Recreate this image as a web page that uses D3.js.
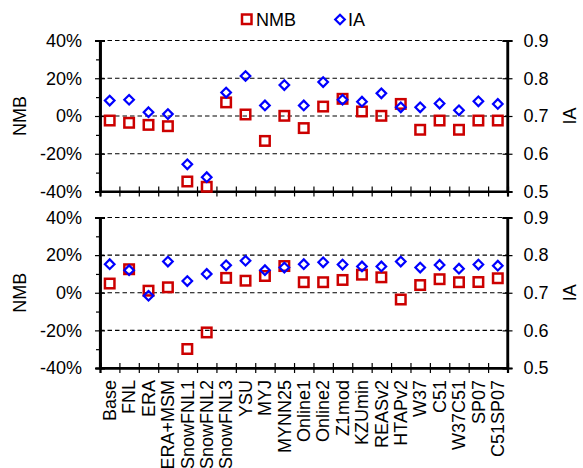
<!DOCTYPE html>
<html>
<head>
<meta charset="utf-8">
<script src="https://cdn.jsdelivr.net/npm/d3@7"></script>
<style>
  html, body { margin: 0; padding: 0; background: #fff; }
  svg { display: block; }
  text { font-family: Arial, "Liberation Sans", sans-serif; fill: #000; }
</style>
</head>
<body>
<svg id="chart" width="583" height="468"></svg>
<script>
// Model runs along the x axis
const runs = ["Base", "FNL", "ERA", "ERA+MSM", "SnowFNL1", "SnowFNL2", "SnowFNL3",
  "YSU", "MYJ", "MYNN25", "Online1", "Online2", "Z1mod", "KZUmin", "REASv2",
  "HTAPv2", "W37", "C51", "W37C51", "SP07", "C51SP07"];

// Upper panel: normalized mean bias (%) and index of agreement
const nmbTop = [-2.4, -3.6, -4.7, -5.4, -34.7, -37.5, 7.2, 0.8, -13.2, 0.1, -6.4, 5.0,
  9.1, 2.4, 0.1, 6.4, -7.3, -2.4, -7.3, -2.4, -2.4];
const iaTop = [0.741, 0.743, 0.710, 0.705, 0.572, 0.538, 0.762, 0.806, 0.728, 0.782, 0.728, 0.790,
  0.743, 0.738, 0.760, 0.723, 0.723, 0.733, 0.715, 0.739, 0.732];

// Lower panel
const nmbBottom = [4.9, 12.5, 1.1, 2.9, -29.9, -21.1, 7.9, 6.4, 8.9, 14.2, 5.6, 5.6,
  6.8, 9.6, 8.2, -3.6, 4.1, 7.2, 5.6, 5.7, 7.7];
const iaBottom = [0.776, 0.760, 0.692, 0.783, 0.731, 0.750, 0.773, 0.785, 0.760, 0.767, 0.776, 0.781,
  0.775, 0.770, 0.770, 0.783, 0.767, 0.774, 0.764, 0.775, 0.772];

// Axis ticks
const nmbTicks = [-40, -20, 0, 20, 40];
const nmbMinorTicks = [-30, -10, 10, 30];
const iaTicks = [0.5, 0.6, 0.7, 0.8, 0.9];
const gridTicks = [-20, 0, 20, 40];

const svg = d3.select("#chart");
const left = 100, right = 507.5;
const red = "#cc0000", blue = "#0000ff";

const x = d3.scaleBand().domain(runs).range([left, right]).padding(0);
const xEdge = d3.scaleLinear().domain([0, runs.length]).range([left, right]);

function panel(top, bottom, nmb, ia, showLabels) {
  const y = d3.scaleLinear().domain([-40, 40]).range([bottom, top]);
  const yIA = d3.scaleLinear().domain([0.5, 0.9]).range([bottom, top]);
  const g = svg.append("g");

  // dashed gridlines
  g.append("g").selectAll("line").data(gridTicks).join("line")
    .attr("x1", left).attr("x2", right)
    .attr("y1", d => y(d)).attr("y2", d => y(d))
    .attr("stroke", "#000").attr("stroke-width", 1.2)
    .attr("stroke-dasharray", "4.5,3");

  // left axis: labels + outer ticks, then inner half of major ticks, then minor ticks
  const la = g.append("g").attr("transform", `translate(${left},0)`)
    .call(d3.axisLeft(y).tickValues(nmbTicks).tickFormat(d => d + "%").tickSize(5).tickPadding(13));
  g.append("g").attr("transform", `translate(${left},0)`)
    .call(d3.axisLeft(y).tickValues(nmbTicks).tickFormat("").tickSize(-5));
  g.append("g").attr("transform", `translate(${left},0)`)
    .call(d3.axisLeft(y).tickValues(nmbMinorTicks).tickFormat("").tickSize(4));

  // right axis
  g.append("g").attr("transform", `translate(${right},0)`)
    .call(d3.axisRight(yIA).tickValues(iaTicks).tickFormat(d3.format(".1f")).tickSize(5).tickPadding(11));
  g.append("g").attr("transform", `translate(${right},0)`)
    .call(d3.axisRight(yIA).tickValues(iaTicks).tickFormat("").tickSize(-5));

  // bottom axis: ticks at category boundaries, crossing the line
  g.append("g").attr("transform", `translate(0,${bottom})`)
    .call(d3.axisBottom(xEdge).tickValues(d3.range(runs.length + 1)).tickFormat("").tickSize(5));
  g.append("g").attr("transform", `translate(0,${bottom})`)
    .call(d3.axisBottom(xEdge).tickValues(d3.range(runs.length + 1)).tickFormat("").tickSize(-5));

  if (showLabels) {
    g.append("g").attr("transform", `translate(0,${bottom})`)
      .call(d3.axisBottom(x).tickSize(0).tickPadding(0))
      .call(a => a.select(".domain").remove())
      .selectAll("text")
      .attr("transform", "rotate(-90)")
      .attr("text-anchor", "end")
      .attr("dy", "0.35em")
      .attr("x", -12)
      .attr("y", 0);
  }

  g.selectAll(".tick line").attr("stroke", "#000").attr("stroke-width", 1.2);
  g.selectAll(".domain").attr("stroke", "#000").attr("stroke-width", 2.2);
  g.selectAll(".tick text").attr("font-size", 18).attr("font-family", "Arial, 'Liberation Sans', sans-serif");

  // box lines (left & right axis lines cover full height, bottom line)
  g.append("line").attr("x1", left).attr("x2", left).attr("y1", top).attr("y2", bottom)
    .attr("stroke", "#000").attr("stroke-width", 2.2);
  g.append("line").attr("x1", right).attr("x2", right).attr("y1", top).attr("y2", bottom)
    .attr("stroke", "#000").attr("stroke-width", 2.2);
  g.append("line").attr("x1", left).attr("x2", right).attr("y1", bottom).attr("y2", bottom)
    .attr("stroke", "#000").attr("stroke-width", 2.2);

  // NMB squares
  const s = 9.5;
  g.append("g").selectAll("rect").data(nmb).join("rect")
    .attr("x", (d, i) => x(runs[i]) + x.bandwidth() / 2 - s / 2)
    .attr("y", d => y(d) - s / 2)
    .attr("width", s).attr("height", s)
    .attr("fill", "none").attr("stroke", red).attr("stroke-width", 2.5);

  // IA diamonds
  const h = 4.8;
  g.append("g").selectAll("path").data(ia).join("path")
    .attr("transform", (d, i) => `translate(${x(runs[i]) + x.bandwidth() / 2},${yIA(d)})`)
    .attr("d", `M0,${-h}L${h},0L0,${h}L${-h},0Z`)
    .attr("fill", "none").attr("stroke", blue).attr("stroke-width", 2.2);

  // axis titles
  svg.append("text").attr("transform", `translate(26,${(top + bottom) / 2}) rotate(-90)`)
    .attr("text-anchor", "middle").attr("font-size", 18).text("NMB");
  svg.append("text").attr("transform", `translate(576,${(top + bottom) / 2}) rotate(-90)`)
    .attr("text-anchor", "middle").attr("font-size", 18).text("IA");
}

panel(40.5, 191.5, nmbTop, iaTop, false);
panel(217.5, 368, nmbBottom, iaBottom, true);

// legend
const lg = svg.append("g");
lg.append("rect").attr("x", 242).attr("y", 14.5).attr("width", 9.5).attr("height", 9.5)
  .attr("fill", "none").attr("stroke", red).attr("stroke-width", 2.5);
lg.append("text").attr("x", 256).attr("y", 26).attr("font-size", 18).text("NMB");
lg.append("path").attr("transform", "translate(340,19.5)")
  .attr("d", "M0,-4.8L4.8,0L0,4.8L-4.8,0Z")
  .attr("fill", "none").attr("stroke", blue).attr("stroke-width", 2.2);
lg.append("text").attr("x", 348).attr("y", 26).attr("font-size", 18).text("IA");
</script>
</body>
</html>
